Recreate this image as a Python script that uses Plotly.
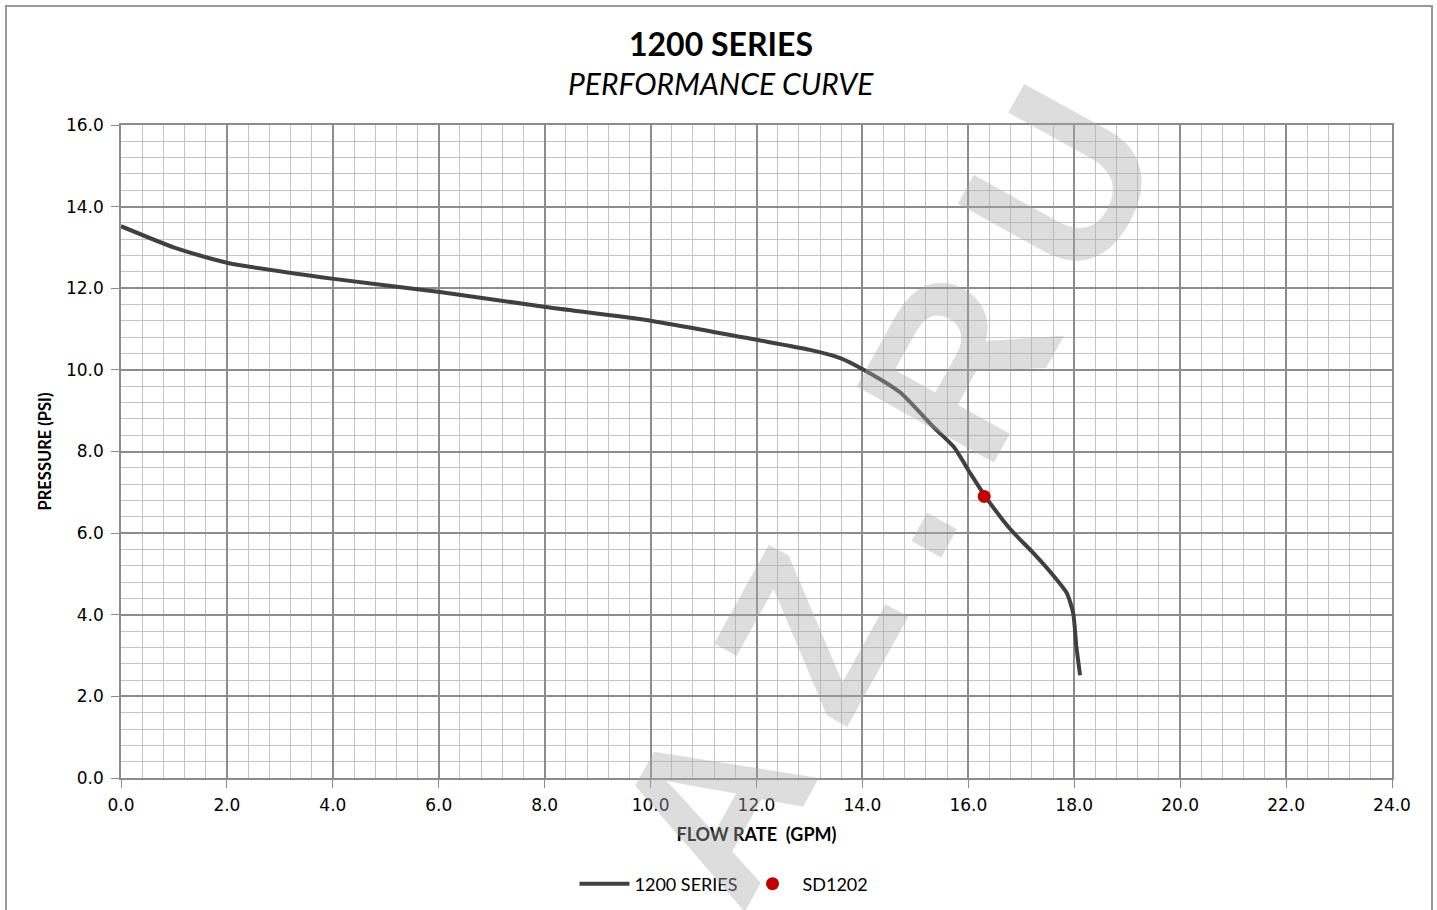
import plotly.graph_objects as go

flow = [0.0, 1.02, 2.02, 4.02, 6.02, 8.02, 10.03, 12.03, 13.01, 13.58, 14.03, 14.71, 15.34,
        15.72, 16.03, 16.31, 16.79, 17.23, 17.60, 17.86, 17.98, 18.04, 18.11]
pressure = [13.52, 12.99, 12.62, 12.23, 11.91, 11.54, 11.20, 10.73, 10.49, 10.29, 10.0, 9.45, 8.6,
            8.12, 7.48, 6.92, 6.1, 5.51, 4.97, 4.53, 4.04, 3.22, 2.52]
sd_flow = [16.3]
sd_pressure = [6.9]
x_ticks = [0, 2, 4, 6, 8, 10, 12, 14, 16, 18, 20, 22, 24]
y_ticks = [0, 2, 4, 6, 8, 10, 12, 14, 16]

FONT = "Lato"
TICKFONT = "DejaVu Sans"
fig = go.Figure()
fig.add_trace(go.Scatter(x=flow, y=pressure, mode="lines", name="1200 SERIES",
                         line=dict(color="#404040", width=4, shape="spline", smoothing=0.6)))
fig.add_trace(go.Scatter(x=sd_flow, y=sd_pressure, mode="markers", name="SD1202",
                         marker=dict(color="#c00000", size=13)))

major = "#8c8c8c"
minor = "#c4c4c4"
axis_common = dict(showgrid=True, gridcolor=major, gridwidth=1.5, showline=True, linecolor=major,
                   linewidth=1.5, mirror=True, ticks="outside", ticklen=8, tickcolor=major,
                   zeroline=False, tickfont=dict(family=TICKFONT, size=17, color="#000"))
fig.update_xaxes(range=[0, 24], tickvals=x_ticks, ticktext=[f"{v:.1f}" for v in x_ticks],
                 minor=dict(dtick=0.4, showgrid=True, gridcolor=minor, gridwidth=1),
                 ticklabelstandoff=3,
                 title=dict(text="<b>FLOW RATE  (GPM)</b>", font=dict(family=FONT, size=18, color="#000"),
                            standoff=14),
                 **axis_common)
fig.update_yaxes(range=[0, 16], tickvals=y_ticks, ticktext=[f"{v:.1f}" for v in y_ticks],
                 minor=dict(dtick=0.4, showgrid=True, gridcolor=minor, gridwidth=1),
                 ticklabelstandoff=4,
                 title=dict(text="<b>PRESSURE (PSI)</b>", font=dict(family=FONT, size=16.5, color="#000"),
                            standoff=10),
                 **axis_common)

fig.add_annotation(text="<b>1200 SERIES</b>", xref="paper", yref="paper", x=(721 - 121) / 1271,
                   y=(778 - 43) / 653, showarrow=False, font=dict(family=FONT, size=32, color="#000"),
                   xanchor="center", yanchor="middle")
fig.add_annotation(text="<i>PERFORMANCE CURVE</i>", xref="paper", yref="paper", x=(721 - 121) / 1271,
                   y=(778 - 83) / 653, showarrow=False, font=dict(family=FONT, size=30, color="#000"),
                   xanchor="center", yanchor="middle")
fig.add_annotation(text="<b>A\u2009Z\u2009.\u2009R\u2009U</b>", xref="x", yref="y", x=14.45, y=6.95,
                   showarrow=False, textangle=-61,
                   font=dict(family="Liberation Sans", size=228, color="rgba(170,170,170,0.4)"),
                   xanchor="center", yanchor="middle")

fig.add_shape(type="rect", xref="paper", yref="paper", x0=(6 - 121) / 1271, x1=(1432 - 121) / 1271,
              y0=(778 - 930) / 653, y1=(778 - 6) / 653, line=dict(color="#999", width=2),
              fillcolor="rgba(0,0,0,0)", layer="above")

fig.update_layout(width=1437, height=910, paper_bgcolor="white", plot_bgcolor="white",
                  margin=dict(l=121, r=45, t=125, b=132, autoexpand=False), showlegend=True,
                  legend=dict(orientation="h", x=(724 - 121) / 1271, y=(778 - 884) / 653,
                              xanchor="center", yanchor="middle",
                              font=dict(family=FONT, size=18, color="#000"), itemwidth=50),
                  font=dict(family=FONT))
fig.write_html("out.html", post_script="document.body.style.margin='0';",
               config={"displayModeBar": False})
